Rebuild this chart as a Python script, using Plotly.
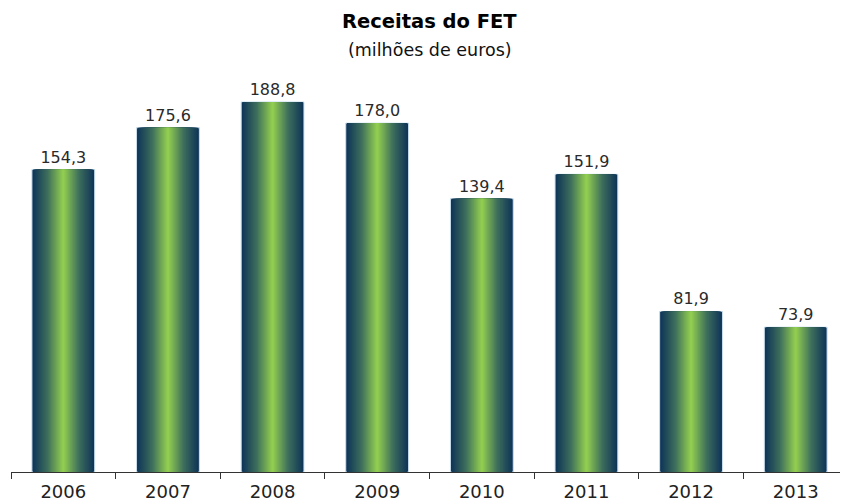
import plotly.graph_objects as go

years = ["2006", "2007", "2008", "2009", "2010", "2011", "2012", "2013"]
receitas = [154.3, 175.6, 188.8, 178.0, 139.4, 151.9, 81.9, 73.9]
labels = [f"{v:.1f}".replace(".", ",") for v in receitas]

edge = (14, 52, 88)
mid = (62, 110, 92)
center = (145, 205, 80)


def lerp(a, b, t):
    return tuple(int(round(a[i] + (b[i] - a[i]) * t)) for i in range(3))


def grad(t):
    if t < 0.5:
        c = lerp(edge, mid, t / 0.5)
    else:
        c = lerp(mid, center, (t - 0.5) / 0.5)
    return "rgb(%d,%d,%d)" % c


fig = go.Figure()
n = 28
bw = 0.6
for k in range(n):
    t = k / (n - 1)
    w = bw * (1 - k / n)
    fig.add_trace(go.Bar(
        x=years, y=receitas, width=w,
        marker=dict(color=grad(t),
                    line=dict(width=1 if k == 0 else 0, color="#c9dfee")),
        text=labels if k == 0 else None,
        textposition="outside" if k == 0 else "none",
        textfont=dict(family="DejaVu Sans", size=16, color="#2a2a2a"),
        cliponaxis=False,
        hoverinfo="skip", showlegend=False,
    ))

H = 392
fig.update_layout(
    width=840, height=494,
    barmode="overlay",
    margin=dict(l=3, r=0, t=72, b=30),
    paper_bgcolor="white", plot_bgcolor="white",
    xaxis=dict(type="category", tickson="boundaries", ticks="outside",
               ticklen=6, tickcolor="#333333", showline=True,
               linecolor="#333333", linewidth=1, showgrid=False,
               ticklabelstandoff=3,
               tickfont=dict(family="DejaVu Sans", size=18, color="#222222")),
    yaxis=dict(range=[0, 200], visible=False, showgrid=False),
    annotations=[
        dict(text="<b>Receitas do FET</b>", xref="paper", yref="paper",
             x=0.5, y=1 + (80 - 22) / H, showarrow=False, yanchor="middle",
             font=dict(family="DejaVu Sans", size=19.5, color="#000000")),
        dict(text="(milhões de euros)", xref="paper", yref="paper",
             x=0.5, y=1 + (80 - 50) / H, showarrow=False, yanchor="middle",
             font=dict(family="DejaVu Sans", size=17.5, color="#111111")),
    ],
)

fig.write_html("out.html")
